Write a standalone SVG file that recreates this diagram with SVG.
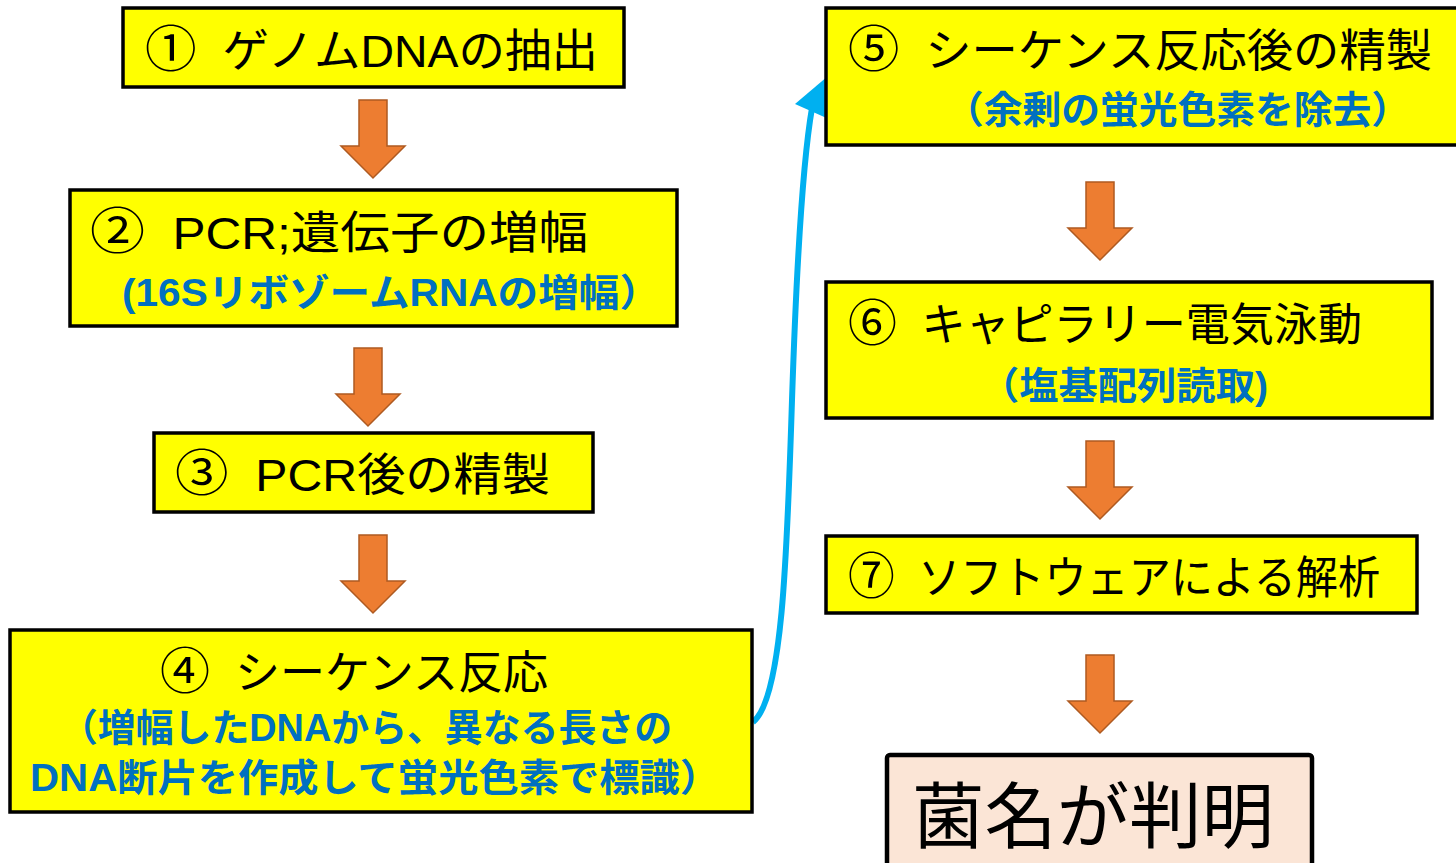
<svg xmlns="http://www.w3.org/2000/svg" xmlns:xlink="http://www.w3.org/1999/xlink" width="1456" height="863" viewBox="0 0 1456 863">
<style>
.box{fill:#FFFF00;stroke:#000;stroke-width:3.5}
.final{fill:#FBE5D6;stroke:#000;stroke-width:4.5}
.t{font-family:"Liberation Sans","Noto Sans CJK JP",sans-serif;font-size:45px;fill:#000;white-space:pre}
.n{font-family:"Noto Sans CJK JP",sans-serif;font-size:50px}
.b{font-family:"Liberation Sans","Noto Sans CJK JP",sans-serif;font-size:38px;font-weight:bold;fill:#0070C0}
.big{font-family:"Noto Sans CJK JP",sans-serif;font-size:72px;fill:#000}
.arr{fill:#ED7D31;stroke:#AE5A21;stroke-width:1.5}
</style>
<defs>
<path id="down" d="M-14,0 H14 V46 H32 L0,78 L-32,46 H-14 Z"/>
</defs>
<rect width="1456" height="863" fill="#fff"/>
<g id="connectors">
<use href="#down" class="arr" transform="translate(373,100)"/>
<use href="#down" class="arr" transform="translate(368,348)"/>
<use href="#down" class="arr" transform="translate(373,535)"/>
<use href="#down" class="arr" transform="translate(1100,182)"/>
<use href="#down" class="arr" transform="translate(1100,441)"/>
<use href="#down" class="arr" transform="translate(1100,655)"/>
<path d="M753,722 C782,700 787,560 792,400 C797,250 803,160 812,108" fill="none" stroke="#00B0F0" stroke-width="6"/>
<polygon points="828,76 795,104 831,120" fill="#00B0F0"/>
</g>
<g id="node1">
<rect class="box" x="123" y="8" width="501" height="79"/>
<text class="t" x="145" y="67" textLength="453" lengthAdjust="spacingAndGlyphs"><tspan class="n">①</tspan>  ゲノムDNAの抽出</text>
</g>
<g id="node2">
<rect class="box" x="70" y="190" width="607" height="136"/>
<text class="t" x="90" y="249" textLength="498" lengthAdjust="spacingAndGlyphs"><tspan class="n">②</tspan>  PCR;遺伝子の増幅</text>
<text class="b" x="122" y="306" textLength="538" lengthAdjust="spacingAndGlyphs">(16SリボゾームRNAの増幅）</text>
</g>
<g id="node3">
<rect class="box" x="154" y="433" width="439" height="79"/>
<text class="t" x="175" y="491" textLength="375" lengthAdjust="spacingAndGlyphs"><tspan class="n">③</tspan>  PCR後の精製</text>
</g>
<g id="node4">
<rect class="box" x="10" y="630" width="742" height="182"/>
<text class="t" x="160" y="689" textLength="388" lengthAdjust="spacingAndGlyphs"><tspan class="n">④</tspan>  シーケンス反応</text>
<text class="b" x="60" y="741" textLength="612" lengthAdjust="spacingAndGlyphs">（増幅したDNAから、異なる長さの</text>
<text class="b" x="30" y="791" textLength="690" lengthAdjust="spacingAndGlyphs">DNA断片を作成して蛍光色素で標識）</text>
</g>
<g id="node5">
<rect class="box" x="826" y="8" width="640" height="137"/>
<text class="t" x="848" y="67" textLength="584" lengthAdjust="spacingAndGlyphs"><tspan class="n">⑤</tspan>  シーケンス反応後の精製</text>
<text class="b" x="945" y="123" textLength="465" lengthAdjust="spacingAndGlyphs">（余剰の蛍光色素を除去）</text>
</g>
<g id="node6">
<rect class="box" x="826" y="282" width="606" height="136"/>
<text class="t" x="848" y="341" textLength="514" lengthAdjust="spacingAndGlyphs"><tspan class="n">⑥</tspan>  キャピラリー電気泳動</text>
<text class="b" x="980" y="399" textLength="288" lengthAdjust="spacingAndGlyphs">（塩基配列読取)</text>
</g>
<g id="node7">
<rect class="box" x="826" y="536" width="591" height="77"/>
<text class="t" x="848" y="594" textLength="532" lengthAdjust="spacingAndGlyphs"><tspan class="n">⑦</tspan>  ソフトウェアによる解析</text>
</g>
<g id="result">
<rect class="final" x="887" y="755" width="425" height="120" rx="3"/>
<text class="big" x="912" y="842" textLength="362" lengthAdjust="spacingAndGlyphs">菌名が判明</text>
</g>
</svg>
